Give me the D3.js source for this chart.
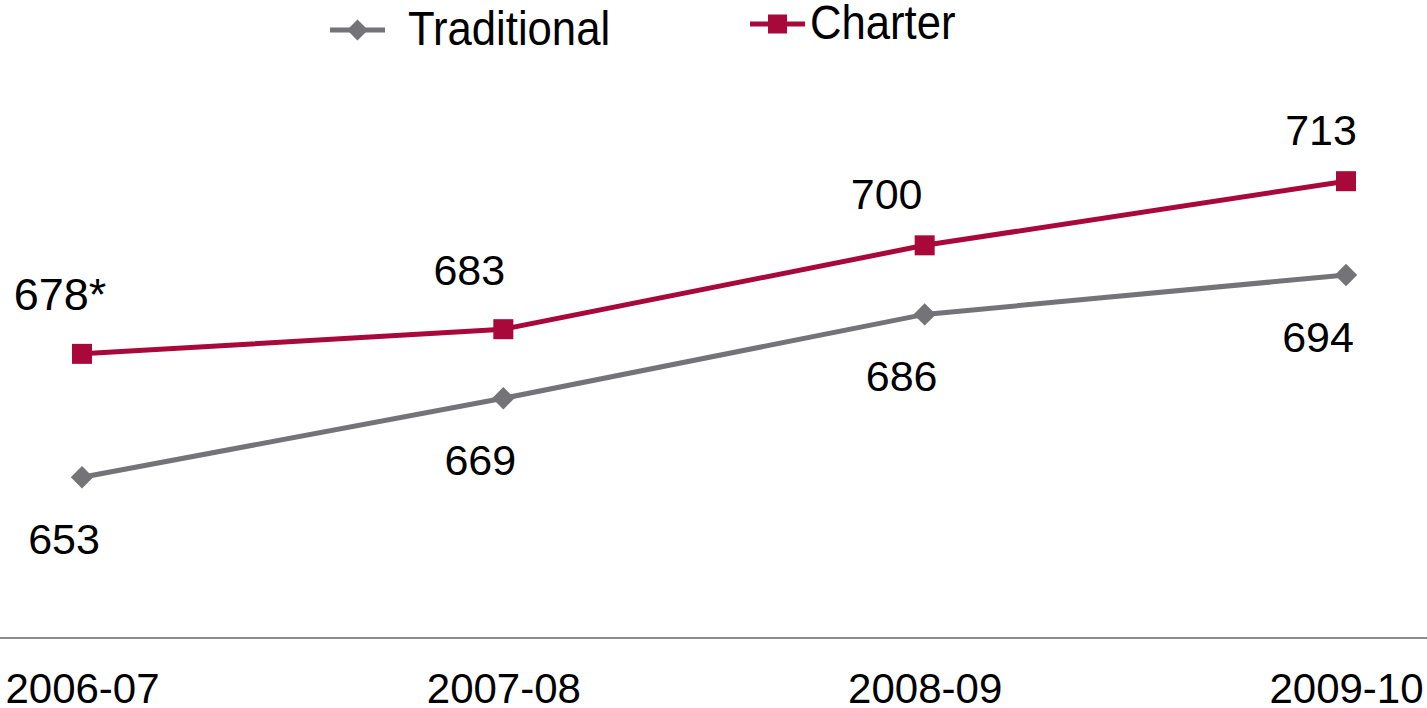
<!DOCTYPE html>
<html>
<head>
<meta charset="utf-8">
<script src="https://cdn.jsdelivr.net/npm/d3@7/dist/d3.min.js"></script>
<style>
  body { margin: 0; background: #fff; }
  svg { display: block; }
</style>
</head>
<body>
<svg class="chart"></svg>
<script>
// chart data
var years = ["2006-07", "2007-08", "2008-09", "2009-10"];
var traditional = [653, 669, 686, 694];
var charter = [678, 683, 700, 713];
var charterLabels = ["678*", "683", "700", "713"];
var seriesNames = ["Traditional", "Charter"];

var width = 1427,
  height = 708;

var grey = "#737378",
  red = "#A8083A";

// label nudges (px), label sits left of its point like in the original
var tradDx = [-18, -23, -23, -28];
var charterDx = [-22, -34, -38, -25];

var svg = d3.select(".chart")
  .attr("width", width)
  .attr("height", height);

var x = d3.scalePoint()
  .domain(years)
  .range([82, 1346]);

var y = d3.scaleLinear()
  .domain([620, 740])
  .range([640, 48]);

// x axis: plain baseline across the whole width
var xAxis = svg.append("g")
  .attr("transform", "translate(0,638)")
  .call(d3.axisBottom(x).tickSize(0).tickPadding(0));
xAxis.select(".domain").remove();
xAxis.selectAll("text")
  .attr("dy", null)
  .attr("y", 65)
  .style("font-family", "'Liberation Sans', Arial, sans-serif")
  .style("font-size", "42px")
  .style("fill", "#000");
svg.append("line")
  .attr("x1", 0).attr("x2", width)
  .attr("y1", 638).attr("y2", 638)
  .attr("stroke", "#8c8c8c")
  .attr("stroke-width", 2);

var line = d3.line()
  .x(function(d, i) { return x(years[i]); })
  .y(function(d) { return y(d); });

// Traditional
svg.append("path")
  .datum(traditional)
  .attr("d", line)
  .attr("fill", "none")
  .attr("stroke", grey)
  .attr("stroke-width", 5);

svg.selectAll(".trad-pt")
  .data(traditional)
  .enter()
  .append("path")
  .attr("class", "trad-pt")
  .attr("d", d3.symbol(d3.symbolDiamond2, 320))
  .attr("transform", function(d, i) { return "translate(" + x(years[i]) + "," + y(d) + ")"; })
  .attr("fill", grey);

// Charter
svg.append("path")
  .datum(charter)
  .attr("d", line)
  .attr("fill", "none")
  .attr("stroke", red)
  .attr("stroke-width", 5);

svg.selectAll(".ch-pt")
  .data(charter)
  .enter()
  .append("rect")
  .attr("class", "ch-pt")
  .attr("x", function(d, i) { return x(years[i]) - 10; })
  .attr("y", function(d) { return y(d) - 10; })
  .attr("width", 20)
  .attr("height", 20)
  .attr("fill", red);

// data labels
var labelFont = "'Liberation Sans', Arial, sans-serif";

svg.selectAll(".trad-lbl")
  .data(traditional)
  .enter()
  .append("text")
  .attr("class", "trad-lbl")
  .attr("x", function(d, i) { return x(years[i]) + tradDx[i]; })
  .attr("y", function(d) { return y(d) + 77; })
  .attr("text-anchor", "middle")
  .style("font-family", labelFont)
  .style("font-size", "43px")
  .text(function(d) { return d; });

svg.selectAll(".ch-lbl")
  .data(charter)
  .enter()
  .append("text")
  .attr("class", "ch-lbl")
  .attr("x", function(d, i) { return x(years[i]) + charterDx[i]; })
  .attr("y", function(d, i) { return y(d) - (i < 2 ? 44 : 36); })
  .attr("text-anchor", "middle")
  .style("font-family", labelFont)
  .style("font-size", function(d, i) { return i == 0 ? "45px" : "43px"; })
  .text(function(d, i) { return charterLabels[i]; });

// legend
var legendFont = "'Liberation Sans Narrow', 'Arial Narrow', sans-serif";
var legend = [
  { name: seriesNames[0], color: grey, lx: 330, ly: 30, ty: 45, tx: 408 },
  { name: seriesNames[1], color: red, lx: 750, ly: 24, ty: 39, tx: 810 }
];

legend.forEach(function(l, i) {
  var g = svg.append("g");
  g.append("line")
    .attr("x1", l.lx).attr("x2", l.lx + 55)
    .attr("y1", l.ly).attr("y2", l.ly)
    .attr("stroke", l.color)
    .attr("stroke-width", 5);
  if (i == 0) {
    g.append("path")
      .attr("d", d3.symbol(d3.symbolDiamond2, 280))
      .attr("transform", "translate(" + (l.lx + 27.5) + "," + l.ly + ")")
      .attr("fill", l.color);
  } else {
    g.append("rect")
      .attr("x", l.lx + 18).attr("y", l.ly - 9.5)
      .attr("width", 19).attr("height", 19)
      .attr("fill", l.color);
  }
  g.append("text")
    .attr("x", l.tx)
    .attr("y", l.ty)
    .style("font-family", legendFont)
    .style("font-size", "45px")
    .attr("transform", "translate(" + l.tx + "," + l.ty + ") scale(0.97,1.06) translate(" + (-l.tx) + "," + (-l.ty) + ")")
    .text(l.name);
});
</script>
</body>
</html>
